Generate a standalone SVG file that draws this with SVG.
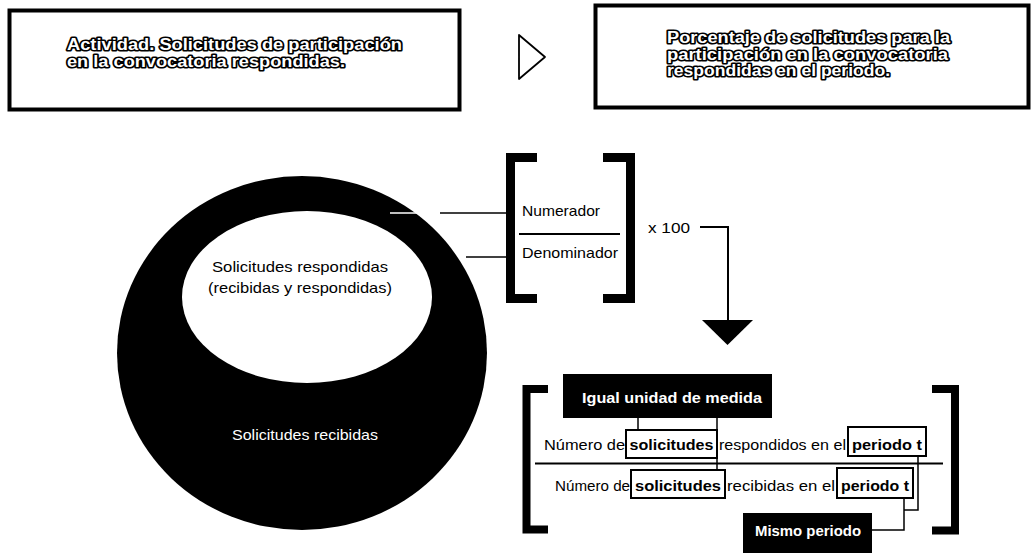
<svg xmlns="http://www.w3.org/2000/svg" width="1033" height="553" viewBox="0 0 1033 553">
<style>
.box{fill:#fff;stroke:#000;stroke-width:4}
.out{font-family:"Liberation Sans",Arial,sans-serif;font-weight:bold;font-size:16px;fill:#fff;stroke:#000;stroke-width:3.2;paint-order:stroke;stroke-linejoin:round}
.t{font-family:"Liberation Sans",Arial,sans-serif;font-size:15px;fill:#000}
.tb{font-family:"Liberation Sans",Arial,sans-serif;font-size:15px;font-weight:bold;fill:#000}
.tw{font-family:"Liberation Sans",Arial,sans-serif;font-size:15px;font-weight:bold;fill:#fff}
.ln{fill:none;stroke:#000;stroke-width:1.5}
.br{fill:none;stroke:#000;stroke-width:9;stroke-linejoin:miter}
.lbl{fill:#fff;stroke:#000;stroke-width:2}
</style>
<rect width="1033" height="553" fill="#fff"/>
<g id="actividad">
<rect class="box" x="9.5" y="10.5" width="450" height="99"/>
<text class="out" x="67" y="50" textLength="335" lengthAdjust="spacingAndGlyphs">Actividad. Solicitudes de participación</text>
<text class="out" x="67" y="67" textLength="278" lengthAdjust="spacingAndGlyphs">en la convocatoria respondidas.</text>
</g>
<g id="flecha">
<polygon points="519,35 545,57 519,79" fill="none" stroke="#000" stroke-width="1.8" stroke-linejoin="round"/>
</g>
<g id="indicador">
<rect class="box" x="595.5" y="5.5" width="433" height="102"/>
<text class="out" x="667" y="43" textLength="283" lengthAdjust="spacingAndGlyphs">Porcentaje de solicitudes para la</text>
<text class="out" x="667" y="59.5" textLength="281" lengthAdjust="spacingAndGlyphs">participación en la convocatoria</text>
<text class="out" x="667" y="76" textLength="223" lengthAdjust="spacingAndGlyphs">respondidas en el periodo.</text>
</g>
<g id="recibidas">
<ellipse cx="302" cy="353" rx="185" ry="177" fill="#000"/>
<text class="tw" style="font-weight:normal" x="305" y="440" text-anchor="middle" textLength="146" lengthAdjust="spacingAndGlyphs">Solicitudes recibidas</text>
</g>
<g id="respondidas">
<ellipse cx="307" cy="297" rx="125" ry="86" fill="#fff"/>
<text class="t" x="300" y="272" text-anchor="middle" textLength="176" lengthAdjust="spacingAndGlyphs">Solicitudes respondidas</text>
<text class="t" x="300" y="293" text-anchor="middle" textLength="184" lengthAdjust="spacingAndGlyphs">(recibidas y respondidas)</text>
</g>
<g id="connectors">
<line x1="390" y1="213" x2="432" y2="213" stroke="#fff" stroke-width="1.5"/>
<line x1="440" y1="213" x2="506" y2="213" stroke="#000" stroke-width="1.5"/>
<line x1="466" y1="257" x2="506" y2="257" stroke="#000" stroke-width="1.5"/>
<polyline class="ln" style="stroke-width:2" points="700,227 728,227 728,321"/>
<polygon points="702,320 753,320 727.5,345" fill="#000"/>
<line class="ln" x1="638" y1="417" x2="638" y2="430"/>
<line class="ln" x1="717" y1="417" x2="717" y2="470"/>
<polyline class="ln" points="918,455 918,510 904,510"/>
<polyline class="ln" points="904,498 904,530 872,530"/>
</g>
<g id="formula">
<path class="br" d="M537,157.5 H510.5 V298.5 H537"/>
<path class="br" d="M603,157.5 H630.5 V298.5 H603"/>
<text class="t" x="522" y="216" textLength="78" lengthAdjust="spacingAndGlyphs">Numerador</text>
<line x1="519" y1="234" x2="620" y2="234" stroke="#000" stroke-width="2"/>
<text class="t" x="522" y="258" textLength="96" lengthAdjust="spacingAndGlyphs">Denominador</text>
<text class="t" x="648" y="233" textLength="42" lengthAdjust="spacingAndGlyphs">x 100</text>
</g>
<g id="formula-detalle">
<path d="M548,389 H526.5 V529.5 H548" fill="none" stroke="#000" stroke-width="8"/>
<path d="M932,389 H955 V530.5 H932" fill="none" stroke="#000" stroke-width="8"/>
<line x1="535" y1="463.5" x2="943" y2="463.5" stroke="#000" stroke-width="2"/>
<rect class="lbl" x="626" y="430" width="91" height="28"/>
<rect class="lbl" x="848" y="427" width="78" height="29"/>
<rect class="lbl" x="631" y="470" width="94" height="28"/>
<rect class="lbl" x="837" y="468" width="76" height="30"/>
<text class="t" x="544" y="450" textLength="81" lengthAdjust="spacingAndGlyphs">Número de</text>
<text class="tb" x="671.5" y="450" text-anchor="middle" textLength="84" lengthAdjust="spacingAndGlyphs">solicitudes</text>
<text class="t" x="719" y="450" textLength="127" lengthAdjust="spacingAndGlyphs">respondidos en el</text>
<text class="tb" x="887" y="450" text-anchor="middle" textLength="70" lengthAdjust="spacingAndGlyphs">periodo t</text>
<text class="t" x="555" y="491" textLength="75" lengthAdjust="spacingAndGlyphs">Número de</text>
<text class="tb" x="678" y="491" text-anchor="middle" textLength="86" lengthAdjust="spacingAndGlyphs">solicitudes</text>
<text class="t" x="727" y="491" textLength="108" lengthAdjust="spacingAndGlyphs">recibidas en el</text>
<text class="tb" x="875" y="491" text-anchor="middle" textLength="68" lengthAdjust="spacingAndGlyphs">periodo t</text>
</g>
<g id="igual-unidad">
<rect x="563" y="374" width="209" height="44" fill="#000"/>
<text class="tw" x="672" y="403" text-anchor="middle" textLength="180" lengthAdjust="spacingAndGlyphs">Igual unidad de medida</text>
</g>
<g id="mismo-periodo">
<rect x="743" y="513" width="129" height="40" fill="#000"/>
<text class="tw" x="808" y="536" text-anchor="middle" textLength="106" lengthAdjust="spacingAndGlyphs">Mismo periodo</text>
</g>
</svg>
